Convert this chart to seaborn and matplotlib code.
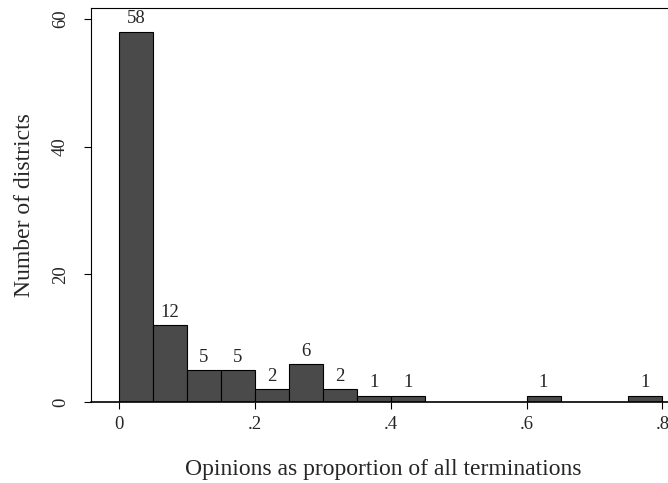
import numpy as np
import pandas as pd
import matplotlib
matplotlib.use("Agg")
import matplotlib.pyplot as plt
import seaborn as sns

# Histogram bins (width .05) and counts
bin_left = [0.00, 0.05, 0.10, 0.15, 0.20, 0.25, 0.30, 0.35,
            0.40, 0.45, 0.50, 0.55, 0.60, 0.65, 0.70, 0.75]
counts = [58, 12, 5, 5, 2, 6, 2, 1, 1, 0, 0, 0, 1, 0, 0, 1]
x_ticks = [0, 0.2, 0.4, 0.6, 0.8]
x_tick_labels = ["0", ".2", ".4", ".6", ".8"]
y_ticks = [0, 20, 40, 60]

edges = bin_left + [0.80]
df = pd.DataFrame({"mid": [b + 0.025 for b in bin_left], "n": counts})

sns.set_style("white")
plt.rcParams["font.family"] = ["Liberation Serif", "DejaVu Serif"]

fig = plt.figure(figsize=(6.68, 4.83), dpi=100)
ax = fig.add_axes([91 / 668, 1 - 402 / 483, 1 - 91 / 668 + 0.01, (402 - 8) / 483])

sns.histplot(data=df, x="mid", weights="n", bins=edges, ax=ax,
             color="#4a4a4a", edgecolor="black", linewidth=0.8, alpha=1)

# count labels above each non-empty bar
for mid, n in zip(df["mid"], df["n"]):
    if n > 0:
        ax.annotate(str(n), (mid, n), xytext=(0, 3), textcoords="offset points",
                    ha="center", va="bottom", fontsize=13.5)

ax.set_xlim(-0.041, 0.818)
ax.set_ylim(0, 61.7)
ax.set_xticks(x_ticks)
ax.set_xticklabels(x_tick_labels, fontsize=13.5)
ax.set_yticks(y_ticks)
ax.set_yticklabels([str(v) for v in y_ticks], fontsize=13.5, rotation=90, va="center")
ax.tick_params(axis="both", bottom=True, left=True, direction="out",
               length=5, width=0.8, color="black")
ax.tick_params(axis="x", pad=5)
ax.tick_params(axis="y", pad=11)

for s in ax.spines.values():
    s.set_color("black")
    s.set_linewidth(0.8)
ax.spines["bottom"].set_visible(False)
ax.axhline(0, color="black", linewidth=1.2, clip_on=False)

ax.set_xlabel("Opinions as proportion of all terminations", fontsize=17, labelpad=19)
ax.set_ylabel("Number of districts", fontsize=17, labelpad=12)

fig.savefig("out.png", dpi=100)
